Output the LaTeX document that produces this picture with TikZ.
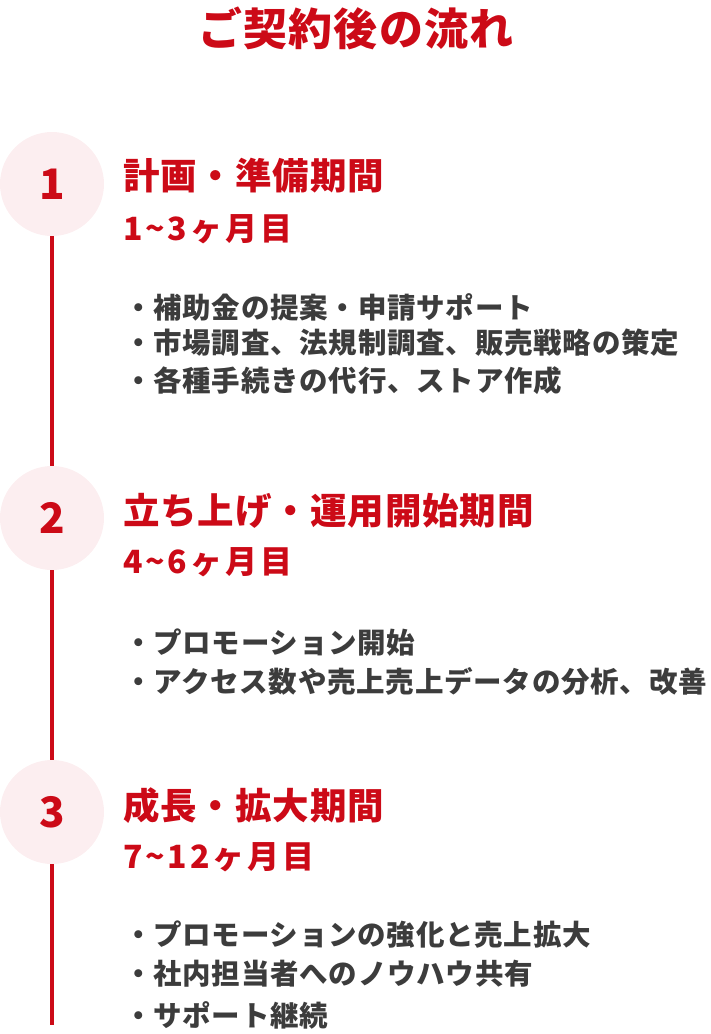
\documentclass[tikz,border=0pt]{standalone}
\usepackage{fontspec}
\setmainfont{Noto Sans CJK JP}
\newfontfamily\titlefont{Noto Sans CJK JP}[LetterSpace=3]
\newfontfamily\headfont{Noto Sans CJK JP}[LetterSpace=2.5]
\newfontfamily\subfont{Noto Sans CJK JP}[LetterSpace=9]
\newfontfamily\itemfont{Noto Sans CJK JP}[LetterSpace=2.6]
\newfontfamily\numfont{Noto Sans CJK JP}
\definecolor{brandred}{HTML}{CC0A17}
\definecolor{pinkbg}{HTML}{FCEEF0}
\definecolor{bodygray}{HTML}{3C3C3C}
\tikzset{
  stepcircle/.style={circle, fill=pinkbg, minimum size=104pt, inner sep=0pt, text=brandred, font=\numfont\fontsize{42}{42}\selectfont\bfseries},
  headtext/.style={anchor=west, inner sep=0pt, text=brandred, font=\headfont\fontsize{36.5}{36.5}\selectfont\bfseries},
  subtext/.style={anchor=west, inner sep=0pt, text=brandred, font=\subfont\fontsize{32}{32}\selectfont\bfseries},
  itemtext/.style={anchor=west, inner sep=0pt, text=bodygray, font=\itemfont\fontsize{28.5}{28.5}\selectfont\bfseries},
  titletext/.style={inner sep=0pt, text=brandred, font=\titlefont\fontsize{44}{44}\selectfont\bfseries},
  timeline/.style={draw=brandred, line width=3.5pt}
}
\begin{document}
\begin{tikzpicture}[x=1pt,y=-1pt]
\useasboundingbox (0,0) rectangle (710,1034);
\node[titletext] (title) at (356,28) {ご契約後の流れ};
% steps
\node[stepcircle] (c1) at (52,184) {1};
\node[stepcircle] (c2) at (52,518) {2};
\node[stepcircle] (c3) at (52,812) {3};
\coordinate (lineend) at (52,1025);
\draw[timeline] (c1.south) -- (c2.north);
\draw[timeline] (c2.south) -- (c3.north);
\draw[timeline] (c3.south) -- (lineend);
% step 1
\node[headtext] (h1) at (123,176) {計画・準備期間};
\node[subtext] (s1) at (123,229) {1\textasciitilde 3ヶ月目};
\node[itemtext] (i11) at (124,307) {・補助金の提案・申請サポート};
\node[itemtext] (i12) at (124,343) {・市場調査、法規制調査、販売戦略の策定};
\node[itemtext] (i13) at (124,381) {・各種手続きの代行、ストア作成};
% step 2
\node[headtext] (h2) at (123,511) {立ち上げ・運用開始期間};
\node[subtext] (s2) at (123,562) {4\textasciitilde 6ヶ月目};
\node[itemtext] (i21) at (124,643) {・プロモーション開始};
\node[itemtext] (i22) at (124,681) {・アクセス数や売上売上データの分析、改善};
% step 3
\node[headtext] (h3) at (123,806) {成長・拡大期間};
\node[subtext] (s3) at (123,857) {7\textasciitilde 12ヶ月目};
\node[itemtext] (i31) at (124,935) {・プロモーションの強化と売上拡大};
\node[itemtext] (i32) at (124,974) {・社内担当者へのノウハウ共有};
\node[itemtext] (i33) at (124,1015) {・サポート継続};
\end{tikzpicture}
\end{document}
